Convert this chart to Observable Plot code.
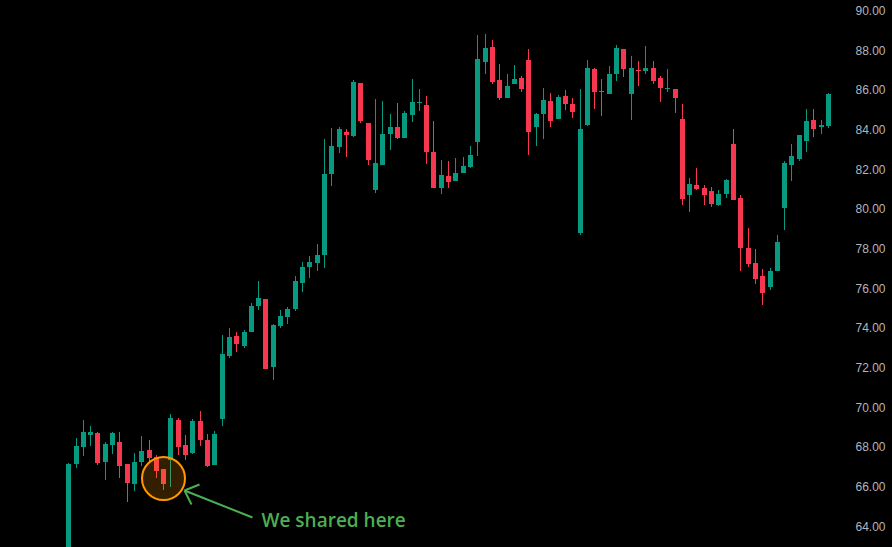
<!DOCTYPE html>
<html>
<head>
<meta charset="utf-8">
<script src="https://cdn.jsdelivr.net/npm/d3@7"></script>
<script src="https://cdn.jsdelivr.net/npm/@observablehq/plot@0.6"></script>
<style>
html,body{margin:0;padding:0;background:#000;overflow:hidden}
svg{display:block}
</style>
</head>
<body>
<div id="chart"></div>
<script>
const open = [62.5,67.10,67.96,68.56,68.67,67.20,68.06,68.21,67.10,66.09,67.20,67.81,67.46,66.85,67.30,69.32,68.06,67.66,69.27,68.31,67.05,
69.37,72.55,73.56,73.05,73.76,75.07,75.42,71.99,74.06,74.52,74.92,76.23,77.04,77.24,77.64,81.73,83.09,83.85,83.64,86.32,84.30,80.92,82.18,83.75,
84.10,83.54,84.70,85.31,85.21,82.84,81.02,81.63,81.37,81.78,82.08,83.34,87.38,88.13,86.47,85.56,86.27,86.57,87.48,84.10,84.75,85.41,84.50,85.66,
85.26,78.75,84.20,87.02,85.91,85.76,86.77,88.03,85.76,86.97,86.92,87.07,86.57,86.01,86.01,84.50,80.67,81.17,81.02,80.87,80.16,80.72,83.24,80.52,
78.00,77.24,76.58,76.03,76.84,80.01,82.18,82.49,83.39,84.45,84.10,84.15];
const high = [67.15,68.41,69.32,69.02,68.72,68.21,68.72,68.72,67.10,67.66,68.51,68.31,67.56,66.85,69.62,69.42,68.56,69.37,69.77,68.61,68.77,
73.61,73.96,73.76,73.86,75.22,76.33,75.42,74.16,74.87,75.02,76.58,77.29,77.59,78.20,83.49,84.05,84.10,84.00,86.47,86.32,84.30,85.51,85.41,84.75,
85.31,84.90,86.52,86.01,85.66,84.40,82.43,82.38,82.53,82.58,83.14,88.74,88.79,88.49,87.28,86.77,87.23,86.67,88.03,84.80,86.07,85.81,85.71,85.96,
85.56,86.01,87.48,87.07,86.52,87.18,88.23,88.03,87.68,87.43,88.18,87.43,86.67,87.02,86.01,85.26,81.53,82.03,81.17,81.07,80.92,81.48,84.00,80.67,
79.00,77.95,76.94,76.99,78.65,82.38,83.24,83.70,85.01,85.01,84.45,85.81];
const low = [62.0,66.90,67.51,68.01,67.05,66.30,67.61,66.40,65.18,65.74,67.00,67.20,66.40,65.79,65.94,67.56,67.30,67.61,68.01,66.95,67.05,
69.02,72.45,72.75,72.95,73.76,74.87,71.89,71.34,73.96,74.16,74.82,75.78,76.48,76.84,76.99,81.12,82.79,82.58,83.59,84.30,82.18,80.77,82.18,82.94,
83.49,83.54,84.35,84.90,82.23,81.02,80.72,81.02,81.37,81.78,82.03,82.64,86.77,86.27,85.46,85.56,86.27,85.86,82.69,83.14,83.49,84.10,84.50,84.96,
84.55,78.65,84.15,85.01,84.65,85.76,86.42,86.62,84.45,86.17,86.77,86.27,85.36,85.86,84.80,80.16,79.81,80.92,80.16,80.06,80.11,80.52,80.42,76.84,
77.04,76.18,75.12,75.88,76.84,78.90,81.37,82.38,82.84,83.59,83.75,84.05];
const close = [67.10,68.01,68.72,68.72,67.15,68.11,68.67,67.00,66.14,67.20,67.76,67.40,66.75,66.09,69.42,67.96,67.56,69.27,68.31,67.00,68.61,
72.65,73.51,73.15,73.76,75.07,75.47,71.89,74.11,74.57,74.92,76.33,77.04,77.29,77.64,81.73,83.14,84.00,83.70,86.37,84.40,82.43,82.28,83.75,84.10,
83.54,84.80,85.36,85.36,82.84,81.02,81.68,81.32,81.78,82.13,82.69,87.53,88.08,86.37,85.56,86.17,86.52,86.01,83.85,84.75,85.46,84.40,85.61,85.26,
84.85,84.00,87.07,85.86,85.86,86.77,88.08,87.02,87.07,86.92,87.07,86.42,86.07,86.07,85.56,80.47,81.22,80.97,80.67,80.21,80.72,81.43,80.42,78.00,
77.19,76.43,75.72,76.84,78.30,82.28,82.64,83.70,84.40,84.00,84.20,85.76];

const tickValues = [90,88,86,84,82,80,78,76,74,72,70,68,66,64];

// Annotation, in chart units (candle index, price)
const markerX = [13.03], markerY = [66.42];
const arrowX1 = [25.16, 17.9, 16.81], arrowY1 = [64.43, 66.09, 65.08];
const arrowX2 = [15.85, 15.85, 15.85], arrowY2 = [65.79, 65.79, 65.79];
const noteText = ["We shared here"], noteX = [26.4], noteY = [64.28];

const GREEN = "#089981", RED = "#f7374f";
const idx = d3.range(open.length);
const dir = idx.map(i => close[i] >= open[i] ? "up" : "down");

const chart = Plot.plot({
  width: 892, height: 547,
  marginLeft: 0, marginRight: 37, marginTop: 0, marginBottom: 0,
  style: {background: "#000", fontFamily: "'Liberation Sans', sans-serif", fontSize: "12px"},
  x: {domain: [0, 104], range: [68.22, 827.94], round: true, axis: null},
  y: {domain: [90, 62], range: [10, 565.16], round: true},
  color: {domain: ["up", "down"], range: [GREEN, RED]},
  marks: [
    Plot.axisY({anchor: "right", ticks: tickValues, tickFormat: d => d.toFixed(2),
      tickSize: 0, tickPadding: 0, label: null, fill: "#b2b5be", dy: 0.5}),
    Plot.ruleX(idx, {x: i => i, y1: i => low[i], y2: i => high[i], stroke: i => dir[i], strokeWidth: 1}),
    Plot.ruleX(idx, {x: i => i, y1: i => open[i], y2: i => close[i], stroke: i => dir[i], strokeWidth: 5}),
    Plot.dot(markerX, {x: markerX, y: markerY, r: 21.5, fill: "#ff9800", fillOpacity: 0.2, stroke: "#ff9800", strokeWidth: 2}),
    Plot.link(arrowX1, {x1: arrowX1, y1: arrowY1, x2: arrowX2, y2: arrowY2, stroke: "#4caf50", strokeWidth: 2}),
    Plot.text(noteText, {x: noteX, y: noteY, text: d => d, textAnchor: "start", fill: "#4caf50",
      fontFamily: "'Open Sans', sans-serif", fontWeight: 600, fontSize: 19})
  ]
});
document.getElementById("chart").appendChild(chart);
</script>
</body>
</html>
